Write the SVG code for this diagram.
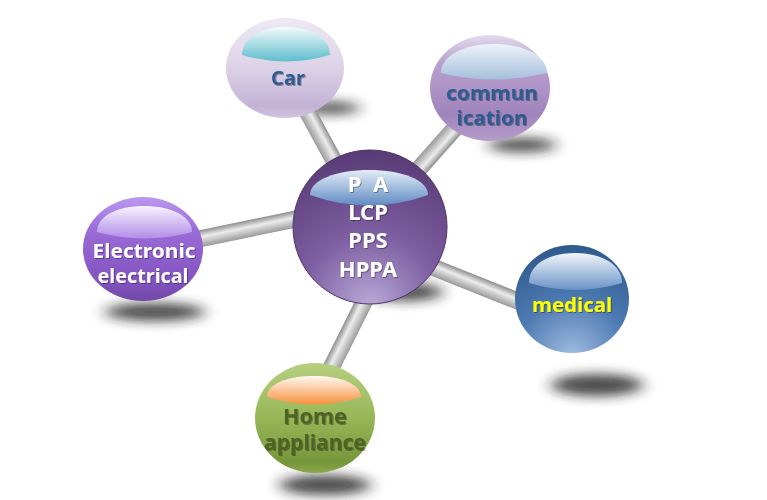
<svg xmlns="http://www.w3.org/2000/svg" width="767" height="500" viewBox="0 0 767 500">
<defs>
<style>
.t{font-family:"Noto Sans","Open Sans","Liberation Sans",sans-serif;font-weight:bold;text-anchor:middle;}
.shadow{fill:#1a1a1a;filter:url(#blur);opacity:0.8}
.bar{fill:url(#gBar)}
</style>
<filter id="blur" x="-50%" y="-150%" width="200%" height="400%"><feGaussianBlur stdDeviation="8 6"/></filter>
<filter id="ts" x="-10%" y="-20%" width="120%" height="140%"><feDropShadow dx="1" dy="1" stdDeviation="0.6" flood-color="#000" flood-opacity="0.35"/></filter>
<linearGradient id="gBar" x1="0" y1="0" x2="0" y2="1">
<stop offset="0" stop-color="#8e8e8e"/><stop offset="0.4" stop-color="#ececec"/><stop offset="1" stop-color="#9a9a9a"/>
</linearGradient>
<linearGradient id="sCar" x1="0" y1="0" x2="0" y2="1">
<stop offset="0" stop-color="#eee9f3"/><stop offset="0.5" stop-color="#dcd2e7"/><stop offset="0.88" stop-color="#c4b2d6"/><stop offset="1" stop-color="#d2c4e0"/>
</linearGradient>
<linearGradient id="sCom" x1="0" y1="0" x2="0" y2="1">
<stop offset="0" stop-color="#e4dbee"/><stop offset="0.25" stop-color="#b9a2cf"/><stop offset="0.75" stop-color="#a084bc"/><stop offset="1" stop-color="#b49cca"/>
</linearGradient>
<radialGradient id="sCen" cx="0.5" cy="1" r="1">
<stop offset="0" stop-color="#b8a8d6"/><stop offset="0.45" stop-color="#7d5fa2"/><stop offset="1" stop-color="#583a76"/>
</radialGradient>
<linearGradient id="sEle" x1="0" y1="0" x2="0" y2="1">
<stop offset="0" stop-color="#bb98f0"/><stop offset="0.3" stop-color="#9c6cd9"/><stop offset="0.8" stop-color="#8354c0"/><stop offset="1" stop-color="#7148a8"/>
</linearGradient>
<radialGradient id="sMed" cx="0.5" cy="1" r="1">
<stop offset="0" stop-color="#9db9e0"/><stop offset="0.5" stop-color="#4c79b1"/><stop offset="1" stop-color="#2f5a8e"/>
</radialGradient>
<linearGradient id="sHom" x1="0" y1="0" x2="0" y2="1">
<stop offset="0" stop-color="#b6cf7f"/><stop offset="0.5" stop-color="#97b757"/><stop offset="0.9" stop-color="#76963a"/><stop offset="1" stop-color="#8aa84c"/>
</linearGradient>
<linearGradient id="cCar" x1="0" y1="0" x2="0" y2="1"><stop offset="0" stop-color="#f4fbfc"/><stop offset="1" stop-color="#5ebdcd"/></linearGradient>
<linearGradient id="cCom" x1="0" y1="0" x2="0" y2="1"><stop offset="0" stop-color="#eef3f9"/><stop offset="1" stop-color="#a6bfdd"/></linearGradient>
<linearGradient id="cCen" x1="0" y1="0" x2="0" y2="1"><stop offset="0" stop-color="#e4edf7"/><stop offset="1" stop-color="#5f8bc3"/></linearGradient>
<linearGradient id="cEle" x1="0" y1="0" x2="0" y2="1"><stop offset="0" stop-color="#f8f4fe"/><stop offset="1" stop-color="#b08ce8"/></linearGradient>
<linearGradient id="cMed" x1="0" y1="0" x2="0" y2="1"><stop offset="0" stop-color="#f2f6fb"/><stop offset="1" stop-color="#6a92c6"/></linearGradient>
<linearGradient id="cHom" x1="0" y1="0" x2="0" y2="1"><stop offset="0" stop-color="#fff8f0"/><stop offset="1" stop-color="#f7903e"/></linearGradient>
</defs>
<rect width="767" height="500" fill="#ffffff"/>
<g id="shadows">
<ellipse class="shadow" cx="330" cy="108" rx="30" ry="6"/>
<ellipse class="shadow" cx="522" cy="145" rx="34" ry="7"/>
<ellipse class="shadow" cx="405" cy="292" rx="38" ry="9"/>
<ellipse class="shadow" cx="155" cy="312" rx="50" ry="9"/>
<ellipse class="shadow" cx="597" cy="385" rx="46" ry="11"/>
<ellipse class="shadow" cx="325" cy="485" rx="46" ry="10"/>
</g>
<g id="connectors">
<rect class="bar" x="0" y="-8.5" width="125" height="17" transform="translate(290,80) rotate(61.4)"/>
<rect class="bar" x="0" y="-8.5" width="120" height="17" transform="translate(480,100) rotate(131.6)"/>
<rect class="bar" x="0" y="-8.5" width="163" height="17" transform="translate(160,247) rotate(-11.65)"/>
<rect class="bar" x="0" y="-8.5" width="172" height="17" transform="translate(400,254) rotate(21.8)"/>
<rect class="bar" x="0" y="-8.5" width="123" height="17" transform="translate(315,400) rotate(-63.4)"/>
</g>
<g id="node-car">
<ellipse cx="285" cy="68" rx="59" ry="50" fill="url(#sCar)"/>
<path d="M242,55 C242,38 262,27 286,27 C310,27 330,38 330,55 Q286,68 242,55 Z" fill="url(#cCar)"/>
<text class="t" x="288" y="85" font-size="20" fill="#2e5b8f" filter="url(#ts)">Car</text>
</g>
<g id="node-communication">
<ellipse cx="490" cy="88" rx="60" ry="53" fill="url(#sCom)"/>
<path d="M441,73 C441,56 463,44 494,44 C525,44 547,56 547,73 Q494,86 441,73 Z" fill="url(#cCom)"/>
<text class="t" x="492" y="100" font-size="20" fill="#2e5b8f" filter="url(#ts)" textLength="92" lengthAdjust="spacingAndGlyphs">commun</text>
<text class="t" x="492" y="125" font-size="20" fill="#2e5b8f" filter="url(#ts)" textLength="71" lengthAdjust="spacingAndGlyphs">ication</text>
</g>
<g id="node-center">
<circle cx="370" cy="227" r="77" fill="url(#sCen)" stroke="#4e3369" stroke-width="1"/>
<path d="M310,195 C310,180 336,170 369,170 C402,170 428,180 428,195 Q369,216 310,195 Z" fill="url(#cCen)"/>
<text class="t" x="368" y="192" font-size="22" fill="#ffffff" filter="url(#ts)" xml:space="preserve">P  A</text>
<text class="t" x="368" y="220" font-size="22" fill="#ffffff" filter="url(#ts)">LCP</text>
<text class="t" x="368" y="248" font-size="22" fill="#ffffff" filter="url(#ts)">PPS</text>
<text class="t" x="368" y="277" font-size="22" fill="#ffffff" filter="url(#ts)">HPPA</text>
</g>
<g id="node-electronic">
<ellipse cx="143" cy="249" rx="60" ry="52" fill="url(#sEle)"/>
<path d="M97,232 C97,216 117,206 144,206 C171,206 192,216 192,232 Q144,245 97,232 Z" fill="url(#cEle)"/>
<text class="t" x="144" y="258" font-size="19" fill="#ffffff" filter="url(#ts)" textLength="103" lengthAdjust="spacingAndGlyphs">Electronic</text>
<text class="t" x="143" y="283" font-size="19" fill="#ffffff" filter="url(#ts)" textLength="91" lengthAdjust="spacingAndGlyphs">electrical</text>
</g>
<g id="node-medical">
<ellipse cx="572" cy="299" rx="57" ry="54" fill="url(#sMed)"/>
<path d="M529,283 C529,264 549,253 575,253 C601,253 622,264 622,283 Q575,297 529,283 Z" fill="url(#cMed)"/>
<text class="t" x="572" y="312" font-size="19" fill="#ffff00" filter="url(#ts)" textLength="80" lengthAdjust="spacingAndGlyphs">medical</text>
</g>
<g id="node-home">
<ellipse cx="315" cy="418" rx="60" ry="55" fill="url(#sHom)"/>
<path d="M267,397 C267,384 287,376 314,376 C341,376 361,384 361,397 Q314,412 267,397 Z" fill="url(#cHom)"/>
<text class="t" x="315" y="424" font-size="21" fill="#4f6228" filter="url(#ts)" textLength="64" lengthAdjust="spacingAndGlyphs">Home</text>
<text class="t" x="315" y="450" font-size="21" fill="#4f6228" filter="url(#ts)" textLength="102" lengthAdjust="spacingAndGlyphs">appliance</text>
</g>
</svg>
